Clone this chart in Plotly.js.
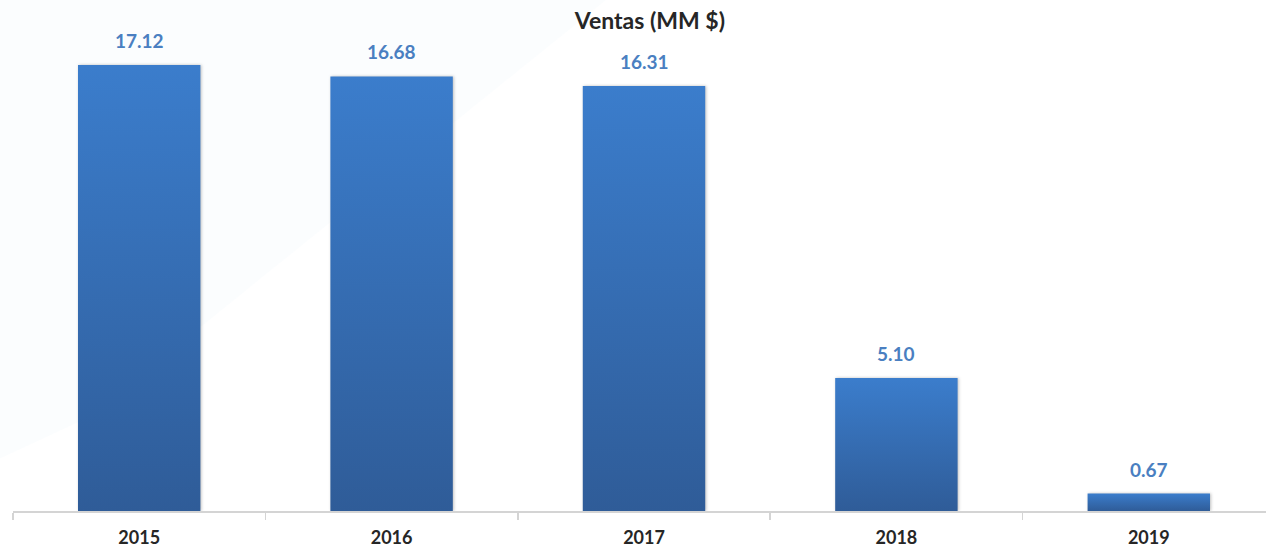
<!DOCTYPE html>
<html>
<head>
<meta charset="utf-8">
<script src="https://cdn.plot.ly/plotly-3.0.1.min.js"></script>
<style>html,body{margin:0;padding:0;background:#fff;overflow:hidden;}#chart{width:1266px;height:549px;overflow:hidden;}</style>
</head>
<body>
<div id="chart"></div>
<script>
const years = ['2015', '2016', '2017', '2018', '2019'];
const ventas = [17.12, 16.68, 16.31, 5.10, 0.67];
const labels = ['17.12', '16.68', '16.31', '5.10', '0.67'];

const FONT = 'Lato, "Open Sans", sans-serif';

const trace = {
  type: 'bar',
  x: years,
  y: ventas,
  marker: {color: '#3670b8', line: {width: 0}},
  width: 0.485,
  hoverinfo: 'x+y'
};

const annotations = years.map(function (yr, i) {
  return {
    x: i, y: ventas[i], xref: 'x', yref: 'y',
    text: '<b>' + labels[i] + '</b>', showarrow: false,
    yanchor: 'bottom', yshift: 11,
    font: {family: FONT, size: 19, color: '#4a7fc1'}
  };
});

const layout = {
  width: 1275, height: 549,
  margin: {l: 13, r: 0, t: 42, b: 38},
  paper_bgcolor: '#ffffff',
  plot_bgcolor: 'rgba(0,0,0,0)',
  title: {text: '<b>Ventas (MM $)</b>', x: 643.5 / 1275, xref: 'paper', xanchor: 'center', y: 0.977, yanchor: 'top',
          font: {family: FONT, size: 23, color: '#262626'}},
  showlegend: false,
  xaxis: {
    type: 'category',
    categoryarray: years, categoryorder: 'array',
    range: [-0.5, years.length - 0.5], autorange: false,
    showline: true, linecolor: '#d4d4d4', linewidth: 1.5,
    ticks: 'outside', tickson: 'boundaries', ticklen: 7, tickcolor: '#d4d4d4', tickwidth: 1.5,
    ticklabelstandoff: 10,
    tickfont: {family: FONT, size: 18, color: '#262626', weight: 'bold'},
    showgrid: false, zeroline: false, fixedrange: true
  },
  yaxis: {
    range: [0, 18], autorange: false, visible: false, showgrid: false, zeroline: false, fixedrange: true
  },
  annotations: annotations,
  shapes: [{
    type: 'path', xref: 'paper', yref: 'paper', layer: 'below',
    path: 'M -0.02 1.09 L 0.47 1.09 L 0.06 0.2 L -0.02 0.1 Z',
    fillcolor: 'rgba(232,240,248,0.16)', line: {width: 0}
  }]
};

Plotly.newPlot('chart', [trace], layout, {displayModeBar: false, staticPlot: true}).then(function (gd) {
  const svg = gd.querySelector('svg.main-svg');
  const ns = 'http://www.w3.org/2000/svg';
  let defs = svg.querySelector('defs');
  if (!defs) { defs = document.createElementNS(ns, 'defs'); svg.insertBefore(defs, svg.firstChild); }
  const lg = document.createElementNS(ns, 'linearGradient');
  lg.setAttribute('id', 'barGrad');
  lg.setAttribute('x1', '0'); lg.setAttribute('y1', '0'); lg.setAttribute('x2', '0'); lg.setAttribute('y2', '1');
  [['0', '#3b7dcc'], ['1', '#2f5c98']].forEach(function (s) {
    const st = document.createElementNS(ns, 'stop');
    st.setAttribute('offset', s[0]); st.setAttribute('stop-color', s[1]);
    lg.appendChild(st);
  });
  defs.appendChild(lg);
  gd.querySelectorAll('.bars .point path').forEach(function (p) {
    p.style.fill = 'url(#barGrad)';
    p.style.filter = 'drop-shadow(1px 0px 1.5px rgba(0,0,0,0.25))';
  });
});
</script>
</body>
</html>
